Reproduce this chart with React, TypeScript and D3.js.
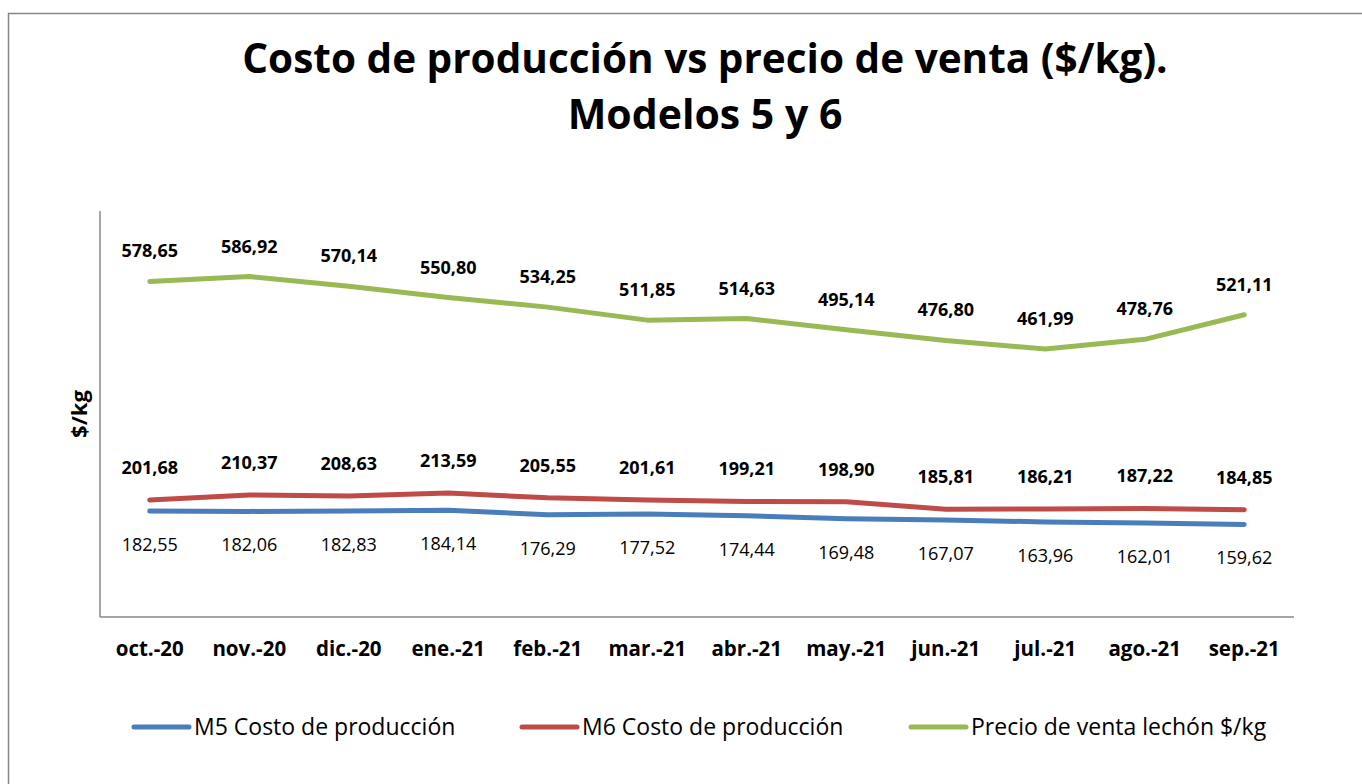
import React from "react";
import * as d3 from "d3";

const categories = ["oct.-20","nov.-20","dic.-20","ene.-21","feb.-21","mar.-21","abr.-21","may.-21","jun.-21","jul.-21","ago.-21","sep.-21"];
const m5 = [182.55,182.06,182.83,184.14,176.29,177.52,174.44,169.48,167.07,163.96,162.01,159.62];
const m6 = [201.68,210.37,208.63,213.59,205.55,201.61,199.21,198.90,185.81,186.21,187.22,184.85];
const precio = [578.65,586.92,570.14,550.80,534.25,511.85,514.63,495.14,476.80,461.99,478.76,521.11];
const seriesNames = ["M5 Costo de producción","M6 Costo de producción","Precio de venta lechón $/kg"];
const colors = ["#4a7ebb","#be4b48","#98b954"];
const titleLines = ["Costo de producción vs precio de venta ($/kg).","Modelos 5 y 6"];
const yTitle = "$/kg";

const W = 1362, H = 784;
const FONT = "'Open Sans', 'Noto Sans', sans-serif";
const fmt = (v: number) => v.toFixed(2).replace(".", ",");

export default function App() {
  const x = d3.scaleBand<string>().domain(categories).range([100, 1294]);
  const y = d3.scaleLinear().domain([0, 700]).range([617, 211]);
  const cx = (c: string) => (x(c) as number) + x.bandwidth() / 2;
  const line = d3.line<number>().x((_, i) => cx(categories[i])).y(v => y(v)).curve(d3.curveLinear);
  const data = [m5, m6, precio];
  const legendX = [134, 522, 911];

  return (
    <svg width={W} height={H} style={{ position: "absolute", left: 0, top: 0, background: "#fff" }} fontFamily={FONT}>
      <rect x={8.5} y={13.5} width={W + 10} height={H + 10} fill="#fff" stroke="#878787" strokeWidth={1.5} />
      <text x={705} y={73} textAnchor="middle" fontSize={40.5} fontWeight="bold" fill="#000">{titleLines[0]}</text>
      <text x={705} y={129} textAnchor="middle" fontSize={41} fontWeight="bold" fill="#000">{titleLines[1]}</text>
      <text transform={`translate(87,414) rotate(-90)`} textAnchor="middle" fontSize={22} fontWeight="bold">{yTitle}</text>
      <line x1={100} x2={100} y1={211} y2={617} stroke="#888" strokeWidth={1.5} />
      <line x1={100} x2={1294} y1={617} y2={617} stroke="#888" strokeWidth={1.5} />
      {categories.map(c => (
        <text key={c} x={cx(c)} y={656} textAnchor="middle" fontSize={20.5} fontWeight="bold">{c}</text>
      ))}
      {data.map((s, k) => (
        <path key={k} d={line(s) as string} fill="none" stroke={colors[k]} strokeWidth={5} strokeLinecap="round" strokeLinejoin="round" />
      ))}
      {precio.map((v, i) => (
        <text key={"p" + i} x={cx(categories[i])} y={y(v) - 24} textAnchor="middle" fontSize={18} fontWeight="bold">{fmt(v)}</text>
      ))}
      {m6.map((v, i) => (
        <text key={"r" + i} x={cx(categories[i])} y={y(v) - 26} textAnchor="middle" fontSize={18} fontWeight="bold">{fmt(v)}</text>
      ))}
      {m5.map((v, i) => (
        <text key={"b" + i} x={cx(categories[i])} y={y(v) + 40} textAnchor="middle" fontSize={18}>{fmt(v)}</text>
      ))}
      {seriesNames.map((n, k) => (
        <g key={n}>
          <line x1={legendX[k]} x2={legendX[k] + 55} y1={727} y2={727} stroke={colors[k]} strokeWidth={5} strokeLinecap="round" />
          <text x={legendX[k] + 60} y={735} fontSize={23}>{n}</text>
        </g>
      ))}
    </svg>
  );
}
